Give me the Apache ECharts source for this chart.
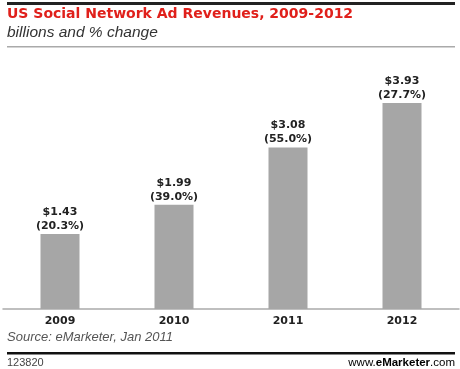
<!DOCTYPE html>
<html>
<head>
<meta charset="utf-8">
<script src="https://cdn.jsdelivr.net/npm/echarts@6/dist/echarts.min.js"></script>
<style>
html,body{margin:0;padding:0;background:#fff;}
#chart{width:460px;height:369px;}
</style>
</head>
<body>
<div id="chart"></div>
<script>
var categories = ['2009', '2010', '2011', '2012'];
var revenues = [1.43, 1.99, 3.08, 3.93];
var pctChange = ['20.3%', '39.0%', '55.0%', '27.7%'];

var chart = echarts.init(document.getElementById('chart'), null, {renderer: 'canvas'});
chart.setOption({
  animation: false,
  backgroundColor: '#ffffff',
  title: [{
    text: 'US Social Network Ad Revenues, 2009-2012',
    left: 7, top: 7, padding: 0,
    textStyle: {fontFamily: 'DejaVu Sans', fontWeight: 'bold', fontSize: 14, color: '#e0201b'}
  }, {
    text: 'billions and % change',
    left: 7, top: 25, padding: 0,
    textStyle: {fontFamily: 'Liberation Sans', fontStyle: 'italic', fontWeight: 'normal', fontSize: 15.5, color: '#333'}
  }, {
    text: 'Source: eMarketer, Jan 2011',
    left: 7, top: 331, padding: 0,
    textStyle: {fontFamily: 'Liberation Sans', fontStyle: 'italic', fontWeight: 'normal', fontSize: 13, color: '#555'}
  }, {
    text: '123820',
    left: 7, top: 357, padding: 0,
    textStyle: {fontFamily: 'Liberation Sans', fontWeight: 'normal', fontSize: 11, color: '#444'}
  }],
  graphic: [
    {type: 'rect', shape: {x: 7, y: 2, width: 448, height: 3}, style: {fill: '#222'}},
    {type: 'rect', shape: {x: 7, y: 46, width: 448, height: 1.5}, style: {fill: '#aaa'}},
    {type: 'rect', shape: {x: 7, y: 352, width: 448, height: 2.5}, style: {fill: '#111'}},
    {
      type: 'text', right: 5, top: 357,
      style: {
        text: '{a|www.}{b|e}{c|Marketer}{a|.com}',
        rich: {
          a: {fontFamily: 'Liberation Sans', fontSize: 11.5, color: '#444'},
          b: {fontFamily: 'Liberation Sans', fontWeight: 'bold', fontSize: 11.5, color: '#e0201b'},
          c: {fontFamily: 'Liberation Sans', fontWeight: 'bold', fontSize: 11.5, color: '#222'}
        }
      }
    }
  ],
  grid: {left: 3, right: 1, top: 47, bottom: 60, containLabel: false},
  xAxis: {
    type: 'category',
    data: categories,
    axisTick: {show: false},
    axisLine: {lineStyle: {color: '#aaa', width: 1.5}},
    axisLabel: {
      margin: 7,
      fontFamily: 'DejaVu Sans', fontWeight: 'bold', fontSize: 11, color: '#222'
    }
  },
  yAxis: {
    type: 'value', min: 0, max: 5,
    show: false,
    splitLine: {show: false}
  },
  series: [{
    type: 'bar',
    data: revenues,
    barWidth: 39,
    itemStyle: {color: '#a6a6a6'},
    label: {
      show: true,
      position: 'top',
      distance: 1,
      formatter: function (p) {
        return '$' + revenues[p.dataIndex].toFixed(2) + '\n(' + pctChange[p.dataIndex] + ')';
      },
      fontFamily: 'DejaVu Sans', fontWeight: 'bold', fontSize: 11, color: '#222',
      lineHeight: 14, align: 'center'
    }
  }]
});
</script>
</body>
</html>
